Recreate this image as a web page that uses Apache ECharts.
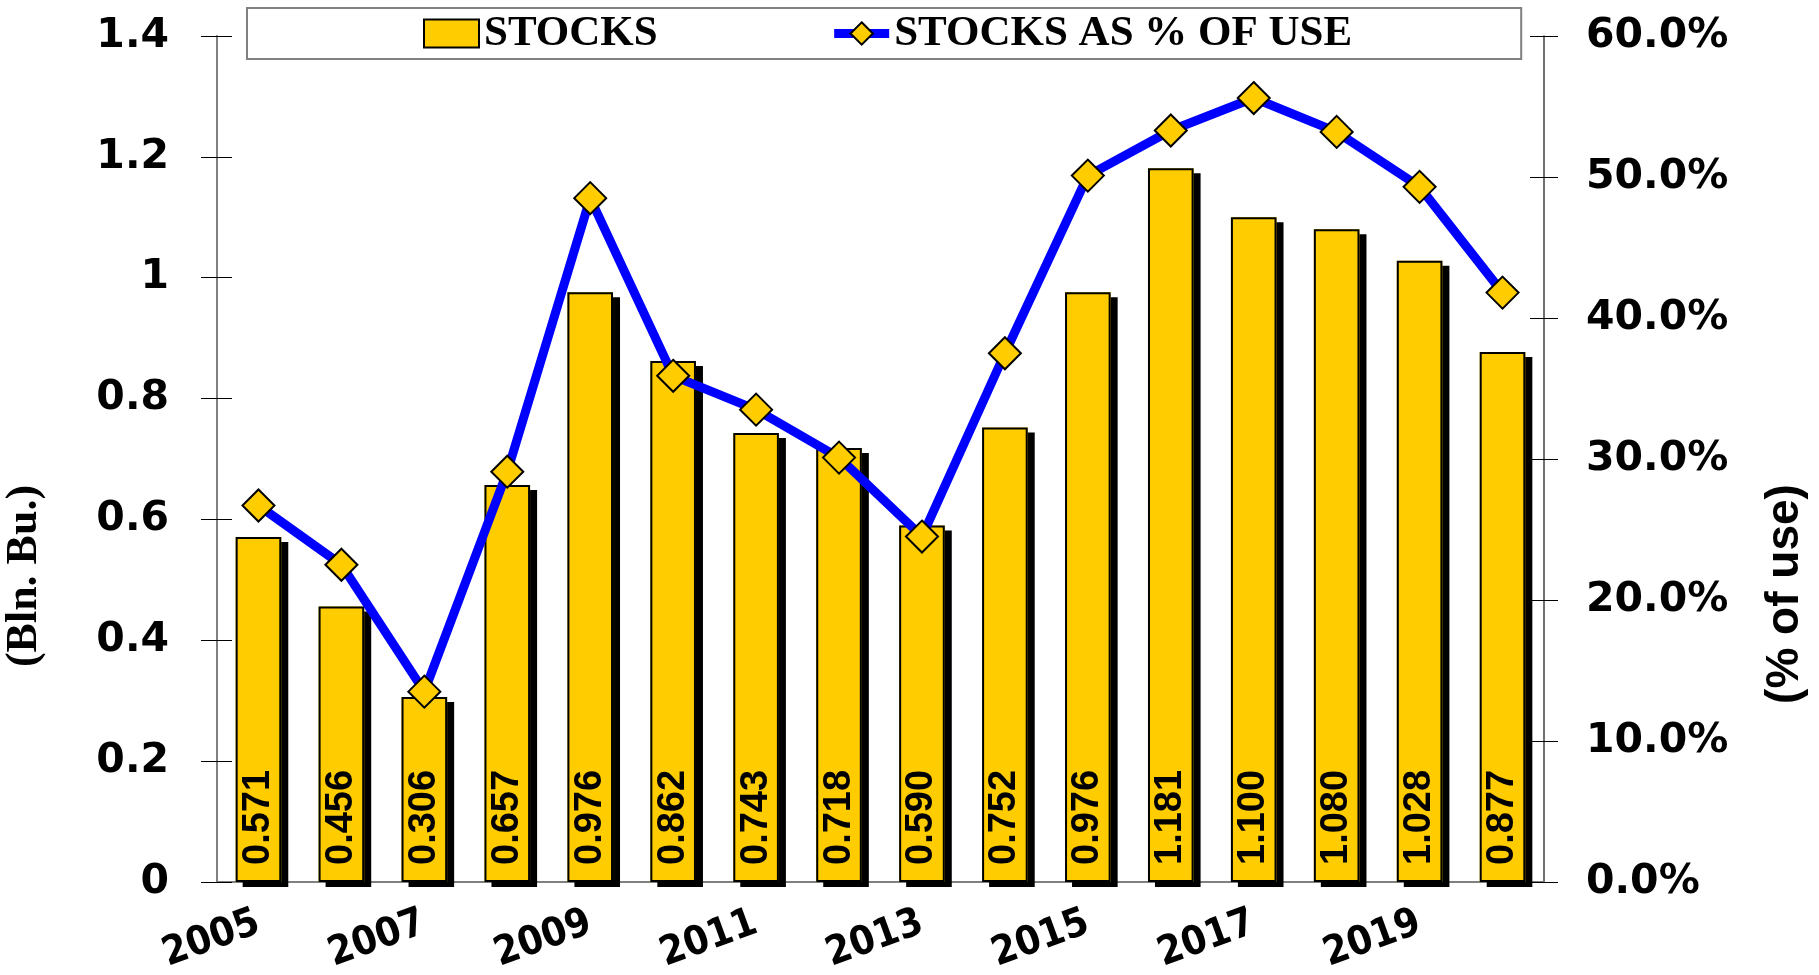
<!DOCTYPE html>
<html>
<head>
<meta charset="utf-8">
<title>stocks</title>
<script src="https://cdn.jsdelivr.net/npm/echarts@6/dist/echarts.min.js"></script>
<style>
  html, body { margin: 0; padding: 0; background: #fff; }
  #main { width: 1819px; height: 975px; }
</style>
</head>
<body>
<div id="main"></div>
<script>
// data
var years = ['2005', '2006', '2007', '2008', '2009', '2010', '2011', '2012',
             '2013', '2014', '2015', '2016', '2017', '2018', '2019', '2020'];
var stocks = [0.571, 0.456, 0.306, 0.657, 0.976, 0.862, 0.743, 0.718,
              0.590, 0.752, 0.976, 1.181, 1.100, 1.080, 1.028, 0.877];
var stocksPct = [26.7, 22.5, 13.5, 29.1, 48.5, 35.9, 33.5, 30.1,
                 24.5, 37.5, 50.1, 53.3, 55.6, 53.2, 49.3, 41.8];
var leftTicks = { min: 0, max: 1.4, interval: 0.2 };
var rightTicks = { min: 0, max: 60, interval: 10 };

var chart = echarts.init(document.getElementById('main'));

var axisFont = { fontFamily: 'DejaVu Sans', fontWeight: 'bold', fontSize: 41, color: '#000' };
var barYellow = '#FFCC00';

var option = {
  backgroundColor: '#fff',
  animation: false,
  grid: { left: 217, right: 275, top: 36, bottom: 93, containLabel: false, outerBoundsMode: 'none' },
  legend: {
    top: 8,
    left: 247,
    padding: [4, 169, 4, 176],
    itemGap: 172,
    itemWidth: 55,
    itemHeight: 28,
    borderColor: '#808080',
    borderWidth: 2,
    backgroundColor: '#fff',
    textStyle: { fontFamily: 'Liberation Serif', fontWeight: 'bold', fontSize: 43, color: '#000' },
    data: [
      { name: 'STOCKS', icon: 'rect' },
      { name: 'STOCKS AS % OF USE', lineStyle: { width: 9, color: '#0000FF' } }
    ]
  },
  xAxis: [{
    type: 'category',
    data: years,
    boundaryGap: true,
    axisLine: { lineStyle: { color: '#808080', width: 2 } },
    axisTick: { interval: 0, length: 13, lineStyle: { color: '#000', width: 1 } },
    axisLabel: Object.assign({}, axisFont, {
      interval: 1, rotate: 20, margin: 40, fontSize: 40,
      fontFamily: 'Liberation Sans Narrow, DejaVu Sans Condensed, sans-serif'
    })
  }, {
    // inner half of the crossing ticks
    type: 'category',
    data: years,
    position: 'bottom',
    axisLine: { show: false },
    axisTick: { interval: 0, inside: true, length: 13, lineStyle: { color: '#000', width: 1 } },
    axisLabel: { show: false }
  }],
  yAxis: [{
    type: 'value',
    min: leftTicks.min, max: leftTicks.max, interval: leftTicks.interval,
    position: 'left',
    name: '(Bln. Bu.)',
    nameLocation: 'middle',
    nameGap: 170,
    nameTextStyle: { fontFamily: 'Liberation Serif', fontWeight: 'bold', fontSize: 44, color: '#000',
                     padding: [0, 234, 0, 0] },
    splitLine: { show: false },
    axisLine: { show: true, lineStyle: { color: '#808080', width: 2 } },
    axisTick: { show: true, length: 16, lineStyle: { color: '#000', width: 1 } },
    axisLabel: Object.assign({}, axisFont, { margin: 48 })
  }, {
    type: 'value',
    min: rightTicks.min, max: rightTicks.max, interval: rightTicks.interval,
    position: 'right',
    name: '(% of use)',
    nameLocation: 'middle',
    nameGap: 218,
    nameTextStyle: { fontFamily: 'Liberation Sans', fontWeight: 'bold', fontSize: 46, color: '#000',
                     padding: [0, 270, 0, 0] },
    splitLine: { show: false },
    axisLine: { show: true, lineStyle: { color: '#404040', width: 1.5 } },
    axisTick: { show: true, length: 14, lineStyle: { color: '#000', width: 1 } },
    axisLabel: Object.assign({}, axisFont, {
      margin: 42,
      formatter: function (v) { return v.toFixed(1) + '%'; }
    })
  }, {
    type: 'value',
    min: leftTicks.min, max: leftTicks.max, interval: leftTicks.interval,
    position: 'left',
    splitLine: { show: false },
    axisLine: { show: false },
    axisTick: { show: true, inside: true, length: 15, lineStyle: { color: '#000', width: 1 } },
    axisLabel: { show: false }
  }, {
    type: 'value',
    min: rightTicks.min, max: rightTicks.max, interval: rightTicks.interval,
    position: 'right',
    splitLine: { show: false },
    axisLine: { show: false },
    axisTick: { show: true, inside: true, length: 14, lineStyle: { color: '#000', width: 1 } },
    axisLabel: { show: false }
  }],
  series: [{
    // drop shadow under the bars
    name: 'STOCKS shadow',
    type: 'bar',
    yAxisIndex: 0,
    barCategoryGap: '45%',
    barGap: '-100%',
    data: stocks,
    silent: true,
    itemStyle: {
      color: barYellow,
      shadowColor: '#000',
      shadowBlur: 0,
      shadowOffsetX: 7,
      shadowOffsetY: 5
    }
  }, {
    name: 'STOCKS',
    type: 'bar',
    yAxisIndex: 0,
    barCategoryGap: '45%',
    barGap: '-100%',
    data: stocks,
    itemStyle: {
      color: barYellow,
      borderColor: '#000',
      borderWidth: 2
    },
    label: {
      show: true,
      position: 'insideBottom',
      rotate: 90,
      align: 'left',
      verticalAlign: 'middle',
      distance: 17,
      fontFamily: 'Liberation Sans',
      fontWeight: 900,
      fontSize: 38,
      color: '#000',
      formatter: function (p) { return p.value.toFixed(3); }
    }
  }, {
    name: 'STOCKS AS % OF USE',
    type: 'line',
    yAxisIndex: 1,
    data: stocksPct,
    symbol: 'diamond',
    symbolSize: 32,
    lineStyle: { color: '#0000FF', width: 9 },
    itemStyle: { color: barYellow, borderColor: '#000', borderWidth: 2 },
    z: 5
  }]
};

chart.setOption(option);
</script>
</body>
</html>
